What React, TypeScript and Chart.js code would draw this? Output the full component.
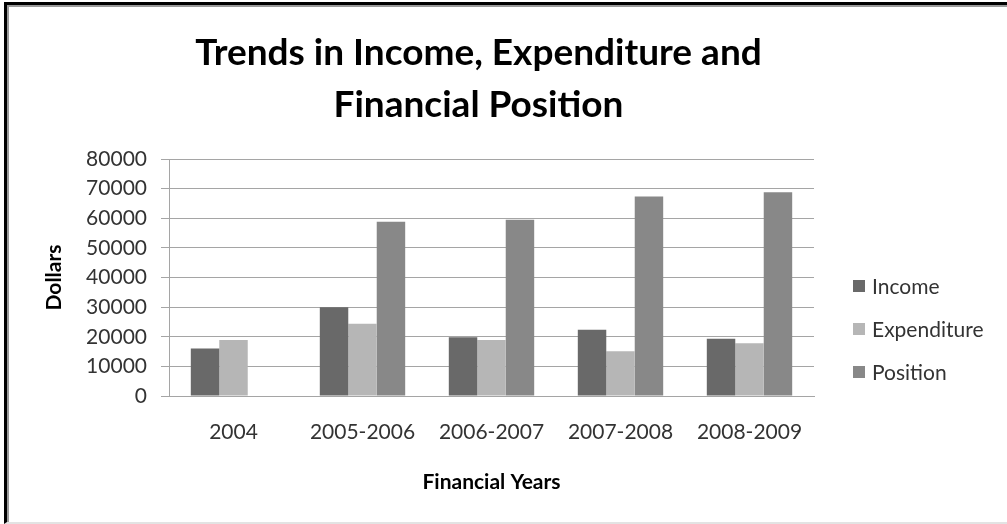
import React, { useEffect, useRef } from "react";
import { Chart, registerables } from "chart.js";

Chart.register(...registerables);

const categories = ["2004", "2005-2006", "2006-2007", "2007-2008", "2008-2009"];
const incomeValues = [16000, 30000, 19800, 22400, 19300];
const expenditureValues = [18900, 24400, 18900, 15100, 17800];
const positionValues = [null, 58800, 59500, 67300, 68800];
const seriesNames = ["Income", "Expenditure", "Position"];
const seriesColors = ["#696969", "#b6b6b6", "#888888"];
const titleLines = ["Trends in Income, Expenditure and", "Financial Position"];
const yAxisTitle = "Dollars";
const xAxisTitle = "Financial Years";
const yMin = 0;
const yMax = 80000;
const yStep = 10000;

const FONT = "Lato, 'Open Sans', sans-serif";

const overlayPlugin = {
  id: "overlay",
  afterDraw(chart: any) {
    const ctx = chart.ctx;
    ctx.save();
    // title
    ctx.fillStyle = "#000";
    ctx.font = `bold 37px ${FONT}`;
    ctx.textAlign = "center";
    ctx.textBaseline = "alphabetic";
    titleLines.forEach((t, i) => ctx.fillText(t, 478.5, 65 + i * 52));
    // legend
    ctx.font = `21px ${FONT}`;
    ctx.textAlign = "left";
    ctx.textBaseline = "middle";
    chart.data.datasets.forEach((ds: any, i: number) => {
      const y = 286 + i * 43;
      ctx.fillStyle = ds.backgroundColor;
      ctx.fillRect(853, y - 6, 12, 12);
      ctx.fillStyle = "#333";
      ctx.fillText(ds.label, 872, y + 1);
    });
    ctx.restore();
  },
};

export default function App() {
  const canvasRef = useRef<HTMLCanvasElement | null>(null);

  useEffect(() => {
    const canvas = canvasRef.current;
    if (!canvas) return;
    const values = [incomeValues, expenditureValues, positionValues];
    const chart = new Chart(canvas, {
      type: "bar",
      data: {
        labels: categories,
        datasets: values.map((v, i) => ({
          label: seriesNames[i],
          data: v as any,
          backgroundColor: seriesColors[i],
          borderWidth: 0,
          categoryPercentage: 0.662,
          barPercentage: 1.0,
        })),
      },
      options: {
        responsive: false,
        animation: false,
        devicePixelRatio: 1,
        layout: { padding: { top: 159, right: 193, left: 0, bottom: 0 } },
        plugins: {
          legend: { display: false },
          title: { display: false },
          tooltip: { enabled: false },
        },
        scales: {
          x: {
            grid: { display: false, drawTicks: false },
            border: { display: true, color: "#a5a5a5", width: 1 },
            ticks: {
              padding: 24,
              color: "#333",
              font: { family: FONT, size: 21 },
              maxRotation: 0,
              autoSkip: false,
            },
            title: {
              display: true,
              text: xAxisTitle,
              color: "#000",
              font: { family: FONT, size: 21, weight: "bold" },
              padding: { top: 0, bottom: 29 },
            },
            afterFit: (s: any) => {
              s.height = 128;
            },
          },
          y: {
            min: yMin,
            max: yMax,
            grid: {
              color: "#a5a5a5",
              lineWidth: 1,
              drawTicks: true,
              tickLength: 8,
              tickColor: "#a5a5a5",
            },
            border: { display: true, color: "#a5a5a5", width: 1 },
            ticks: {
              stepSize: yStep,
              padding: 14,
              color: "#333",
              font: { family: FONT, size: 21 },
              callback: (v: any) => String(v),
            },
            title: {
              display: true,
              text: yAxisTitle,
              color: "#000",
              font: { family: FONT, size: 21, weight: "bold" },
              padding: { top: 42, bottom: 0 },
            },
            afterFit: (s: any) => {
              s.width = 169;
            },
          },
        },
      },
      plugins: [overlayPlugin],
    });
    if ((document as any).fonts) {
      Promise.all([
        (document as any).fonts.load(`21px Lato`),
        (document as any).fonts.load(`bold 37px Lato`),
      ])
        .then(() => chart.update())
        .catch(() => {});
    }
    return () => chart.destroy();
  }, []);

  return (
    <div
      style={{
        position: "absolute",
        left: 0,
        top: 0,
        width: 1007,
        height: 524,
        overflow: "hidden",
        background: "#fff",
      }}
    >
      <div
        style={{
          position: "absolute",
          left: 4,
          top: 2,
          width: 1100,
          height: 517,
          borderLeft: "3px solid #000",
          borderTop: "3px solid #000",
          borderBottom: "2px solid #e3e3e3",
          boxSizing: "content-box",
        }}
      >
        <div
          style={{
            position: "absolute",
            left: 0,
            top: 0,
            right: 0,
            bottom: 0,
            borderLeft: "2px solid #9a9a9a",
            borderTop: "2px solid #9a9a9a",
          }}
        />
      </div>
      <canvas
        ref={canvasRef}
        width={1007}
        height={524}
        style={{ position: "absolute", left: 0, top: 0, width: 1007, height: 524 }}
      />
    </div>
  );
}
